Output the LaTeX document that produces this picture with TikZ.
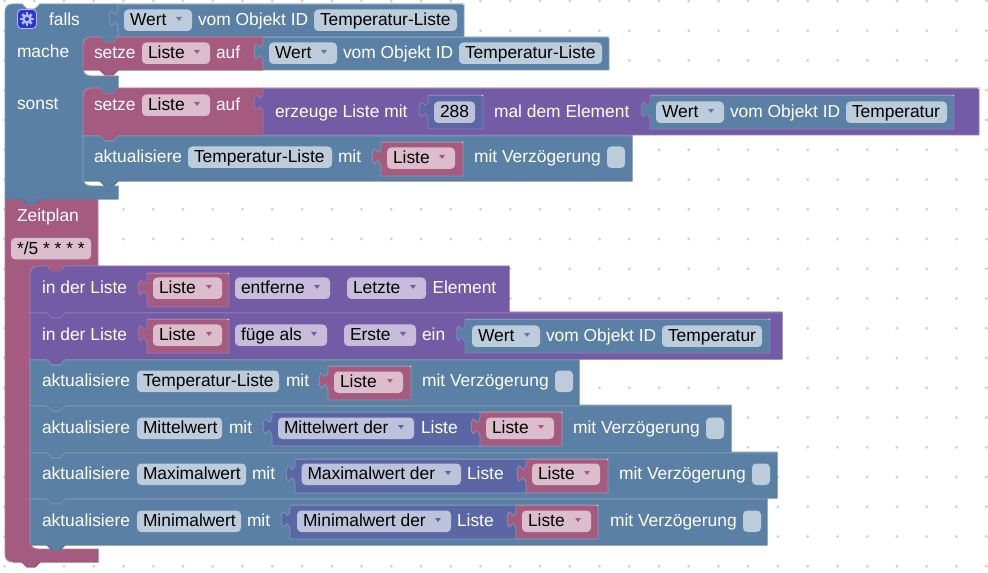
\documentclass[tikz,border=0pt]{standalone}
\usepackage{fontspec}
\setmainfont{Liberation Sans}
\definecolor{bB}{HTML}{5B80A5}\definecolor{bL}{HTML}{7F9BB8}\definecolor{bD}{HTML}{496684}\definecolor{bF}{HTML}{BDCCDB}
\definecolor{pB}{HTML}{A55B80}\definecolor{pL}{HTML}{B77C99}\definecolor{pD}{HTML}{844966}\definecolor{pF}{HTML}{DBBDCC}
\definecolor{uB}{HTML}{745BA5}\definecolor{uL}{HTML}{907CB7}\definecolor{uD}{HTML}{5D4984}\definecolor{uF}{HTML}{C7BDDB}
\definecolor{iB}{HTML}{5B67A5}\definecolor{iL}{HTML}{7C85B7}\definecolor{iD}{HTML}{495284}\definecolor{iF}{HTML}{BDC2DB}
\definecolor{dotc}{HTML}{D4D4D4}\definecolor{iconc}{HTML}{2A35D8}\definecolor{gearc}{HTML}{B4BCF5}
\newcount\nn
\tikzset{
  lbl/.style={anchor=base west,inner sep=0pt,outer sep=0pt,font=\fontsize{13.05}{15}\selectfont},
  edge/.style={line width=.7pt,line join=miter},
  thinedge/.style={line width=.5pt,line join=miter},
  fieldfill/.style={rounded corners=3.2pt},
}
% notch helpers
\newcommand\dentR[2]{-- ({#1+17},#2) -- ({#1+22},{#2+5}) -- ({#1+30},{#2+5}) -- ({#1+35},#2)}
\newcommand\dentL[2]{-- ({#1+35},#2) -- ({#1+30},{#2+5}) -- ({#1+22},{#2+5}) -- ({#1+17},#2)}
\newcommand\plug[3]{\fill[#3] ({#1+17},#2) -- ({#1+22},{#2+5}) -- ({#1+30},{#2+5}) -- ({#1+35},#2) -- cycle;}
\newcommand\toplit[4]{\draw[#4L,edge] (#1,{#2+.8}) \dentR{#1}{#2+.8} -- (#3,{#2+.8});}
% text
\newcommand\tx[3]{\global\advance\nn by 1 \node[lbl,text=white] (n\the\nn) at (#1,{#2+.6}) {#3};}
\newcommand\bk[3]{\global\advance\nn by 1 \node[lbl,text=black] (n\the\nn) at (#1,{#2+.6}) {#3};}
% fields: x1 x2 baseline text colourprefix
\newcommand\fld[5]{\fill[fieldfill,#5F] (#1,{#3-15.5}) rectangle (#2,{#3+6});\bk{#1+6}{#3}{#4}}
\newcommand\dd[5]{\fld{#1}{#2}{#3}{#4}{#5}\fill[#5B] ({#2-16},{#3-8}) -- ({#2-10},{#3-8}) -- ({#2-13},{#3-4}) -- cycle;}
\newcommand\chk[3]{\fill[fieldfill,bF] (#1,{#3-15.5}) rectangle (#2,{#3+6});}
% statement block: x1 y1 x2 y2 colour radius
\newcommand\stmt[6]{%
  \path[fill=#5B,draw=#5L,edge] (#1,{#2+#6}) .. controls (#1,{#2+.45*#6}) and ({#1+.45*#6},#2) .. ({#1+#6},#2)
     \dentR{#1}{#2} -- (#3,#2) -- (#3,#4) \dentL{#1}{#4} -- (#1,#4) -- cycle;
  \draw[#5D,edge] (#3,#2) -- (#3,#4) \dentL{#1}{#4} -- (#1,#4);
}
% value block: x1 y1 x2 y2 colour parentcolour
\newcommand\val[6]{%
  \path[fill=#5B,draw=#6L,thinedge] (#1,#2) -- (#3,#2) -- (#3,#4) -- (#1,#4) -- (#1,{#2+24})
     -- ({#1-1},{#2+21}) -- ({#1-3},{#2+18.5}) .. controls ({#1-5},{#2+20}) and ({#1-6},{#2+22}) .. ({#1-7},{#2+22})
     .. controls ({#1-9.5},{#2+20}) and ({#1-9.5},{#2+9}) .. ({#1-7},{#2+7})
     .. controls ({#1-5},{#2+7}) and ({#1-4},{#2+9}) .. ({#1-3},{#2+10.5})
     -- ({#1-1},{#2+9}) -- (#1,{#2+6}) -- cycle;
  \draw[#5L,thinedge] (#1,#2) -- (#3,#2);
  \draw[white,thinedge] ({#3-1},#2) -- (#3,#2);
}
\begin{document}
\begin{tikzpicture}[x=.75pt,y=-.75pt]
\useasboundingbox (0,0) rectangle (988,573);
\fill[white] (0,0) rectangle (988,573);
% grid dots
\foreach \i in {0,...,33}{\foreach \j in {0,...,19}{
  \fill[dotc] ({4.5+\i*29.75},{1+\j*29.75}) circle (1.6);}}

% ---------- Zeitplan block
\path[fill=pB,draw=pL,edge] (5,199) \dentR{5}{199} -- (98,199) -- (98,266) -- (38,266)
   .. controls (33,266) and (30,269) .. (30,274) -- (30,541)
   .. controls (30,546) and (33,549) .. (38,549) -- (98,549) -- (98,562) \dentL{5}{562} -- (13,562)
   .. controls (8,562) and (5,559) .. (5,554) -- cycle;
\draw[pD,edge] (98,549) -- (98,562) \dentL{5}{562} -- (13,562);
\tx{17}{221}{Zeitplan}
\fld{11}{91}{253.5}{*/5 * * * *}{p}

% ---------- falls block
\path[fill=bB,draw=bL,edge] (5,12) .. controls (5,7) and (8,4) .. (13,4) \dentR{5}{4} -- (118,4) -- (118,37)
   -- (91,37) .. controls (86,37) and (83,40) .. (83,45) -- (83,68)
   .. controls (83,73) and (86,76) .. (91,76) -- (118,76) -- (118,88) \dentL{83}{88} -- (91,88)
   .. controls (86,88) and (83,91) .. (83,96) -- (83,178)
   .. controls (83,183) and (86,186) .. (91,186) -- (118,186) -- (118,199) \dentL{5}{199} -- (5,199) -- cycle;
\draw[bD,edge] (118,76) -- (118,88) \dentL{83}{88};
\draw[bD,edge] (118,186) -- (118,199) \dentL{5}{199} -- (5,199);
% gear icon
\filldraw[fill=iconc,draw=gearc,line width=.6pt,rounded corners=3pt] (17.5,9.5) rectangle (36.5,28.5);
\foreach \a in {0,45,...,315}{\draw[gearc,line width=2pt] (27,19) ++(\a:3.5) -- ++(\a:3.2);}
\fill[gearc] (27,19) circle (4.8);
\fill[iconc] (27,19) circle (2);
\tx{49}{25}{falls}
\tx{17}{57}{mache}
\tx{17}{109}{sonst}
% head value
\val{118}{4}{464}{37}{b}{b}
\dd{124}{192}{25}{Wert}{b}
\tx{198}{25}{vom Objekt ID}
\fld{314}{457}{25}{Temperatur-Liste}{b}

% ---------- first statement
\stmt{83}{37}{263}{70}{p}{8}
\plug{83}{37}{bB}
\tx{94}{58}{setze}
\dd{142}{210}{58}{Liste}{p}
\tx{216}{58}{auf}
\val{263}{37}{609}{70}{b}{b}
\dd{269}{337}{58}{Wert}{b}
\tx{343}{58}{vom Objekt ID}
\fld{459}{602}{58}{Temperatur-Liste}{b}

% ---------- sonst statements
\stmt{83}{135}{632}{181}{b}{0}
\stmt{83}{88}{263}{135}{p}{8}
\plug{83}{88}{bB}
\toplit{83}{135}{632}{b}
\tx{94}{110}{setze}
\dd{142}{210}{110}{Liste}{p}
\tx{216}{110}{auf}
\val{263}{88}{979}{135}{u}{u}
\tx{275}{117}{erzeuge Liste mit}
\val{428}{95}{483}{129}{i}{u}
\fld{434}{475}{117}{288}{i}
\tx{494}{117}{mal dem Element}
\val{650}{95}{954}{129}{b}{u}
\dd{656}{724}{117}{Wert}{b}
\tx{730}{117}{vom Objekt ID}
\fld{846}{947}{117}{Temperatur}{b}

\tx{94}{162}{aktualisiere}
\fld{188}{332}{162}{Temperatur-Liste}{b}
\tx{338}{162}{mit}
\val{381}{142}{463}{176}{p}{b}
\dd{387}{455}{163}{Liste}{p}
\tx{474}{162}{mit Verzögerung}
\chk{607}{625}{162}

% ---------- Zeitplan statements (bottom to top so each tab overlaps)
\stmt{30}{498}{767}{545}{b}{0}
\stmt{30}{452}{777}{498}{b}{0}
\stmt{30}{405}{731}{452}{b}{0}
\stmt{30}{359}{579}{405}{b}{0}
\stmt{30}{312}{782}{359}{u}{0}
\stmt{30}{266}{509}{312}{u}{8}
\plug{30}{266}{pB}
\toplit{30}{312}{782}{u}
\toplit{30}{359}{579}{b}
\toplit{30}{405}{731}{b}
\toplit{30}{452}{777}{b}
\toplit{30}{498}{767}{b}

% in der Liste (entferne)
\tx{42}{293}{in der Liste}
\val{147}{273}{229}{307}{p}{u}
\dd{153}{222}{293}{Liste}{p}
\dd{235}{330}{293}{entferne}{u}
\dd{347}{426}{293}{Letzte}{u}
\tx{432.5}{293}{Element}

% in der Liste (fuege)
\tx{42}{340}{in der Liste}
\val{147}{319}{229}{353}{p}{u}
\dd{153}{222}{340}{Liste}{p}
\dd{235}{327}{340}{füge als}{u}
\dd{344}{416}{340}{Erste}{u}
\tx{422}{340}{ein}
\val{465}{319}{770}{353}{b}{u}
\dd{472}{540}{341}{Wert}{b}
\tx{546}{341}{vom Objekt ID}
\fld{662}{762}{341}{Temperatur}{b}

% Temperatur-Liste
\tx{42}{386}{aktualisiere}
\fld{137}{279}{386}{Temperatur-Liste}{b}
\tx{286}{386}{mit}
\val{328}{366}{411}{400}{p}{b}
\dd{334}{403}{387}{Liste}{p}
\tx{422}{386}{mit Verzögerung}
\chk{555}{573}{386}

% Mittelwert
\tx{42}{433}{aktualisiere}
\fld{137}{222}{433}{Mittelwert}{b}
\tx{229}{433}{mit}
\val{272}{412}{562}{446}{i}{b}
\dd{278}{414}{433}{Mittelwert der}{i}
\tx{421}{433}{Liste}
\val{480}{412}{562}{446}{p}{b}
\dd{486}{554}{433}{Liste}{p}
\tx{573}{433}{mit Verzögerung}
\chk{706}{724}{433}

% Maximalwert
\tx{42}{479}{aktualisiere}
\fld{137}{246}{479}{Maximalwert}{b}
\tx{252}{479}{mit}
\val{295}{459}{608}{493}{i}{b}
\dd{301.5}{461}{479}{Maximalwert der}{i}
\tx{467}{479}{Liste}
\val{526}{459}{608}{493}{p}{b}
\dd{532}{600}{479}{Liste}{p}
\tx{619}{479}{mit Verzögerung}
\chk{752}{770}{479}

% Minimalwert
\tx{42}{526}{aktualisiere}
\fld{137}{241}{526}{Minimalwert}{b}
\tx{247}{526}{mit}
\val{290}{505}{598}{539}{i}{b}
\dd{297}{451}{526}{Minimalwert der}{i}
\tx{457}{526}{Liste}
\val{516}{505}{598}{539}{p}{b}
\dd{522}{591}{526}{Liste}{p}
\tx{610}{526}{mit Verzögerung}
\chk{743}{761}{526}
\end{tikzpicture}
\end{document}
